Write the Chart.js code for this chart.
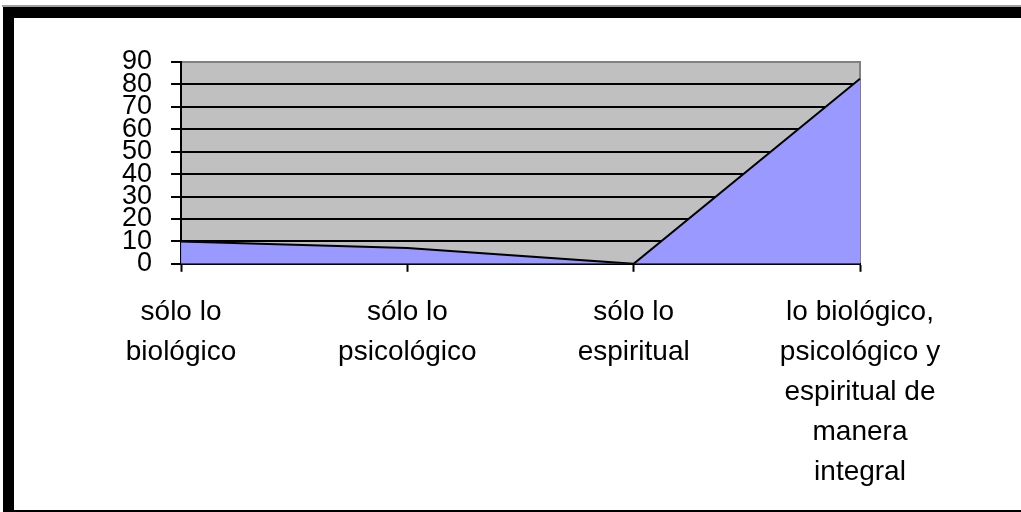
<html lang="es"><head>
<meta charset="utf-8">
<title>Gráfico de áreas</title>
<style>
* { margin: 0; padding: 0; box-sizing: border-box; }
body { width: 1021px; height: 512px; background: #ffffff; overflow: hidden; position: relative; }
.frame {
  position: absolute;
  left: 3px;
  top: 7px;
  width: 1030px;
  height: 505px;
  border-top: 11px solid #000000;
  border-left: 11px solid #000000;
  border-bottom: 2px solid #000000;
}
.topline { position: absolute; left: 2px; top: 5px; width: 1030px; height: 2px; background: #a0a0a0; }
#chart { position: absolute; left: 0; top: 0; }
</style>
</head>
<body>
<div class="topline"></div>
<div class="frame"></div>
<canvas id="chart" width="1021" height="512"></canvas>
<script src="https://cdn.jsdelivr.net/npm/chart.js@4.4.1/dist/chart.umd.min.js"></script>
<script>
// categories and values
const categories = [
  ["sólo lo", "biológico"],
  ["sólo lo", "psicológico"],
  ["sólo lo", "espiritual"],
  ["lo biológico,", "psicológico y", "espiritual de", "manera", "integral"]
];
const values = [10, 7, 0, 82.5];
const yTicks = { min: 0, max: 90, step: 10 };

// gray plot background with gray top/right edge
const plotBackground = {
  id: "plotBackground",
  beforeDraw(chart) {
    const { ctx, chartArea: a } = chart;
    ctx.save();
    ctx.fillStyle = "#c0c0c0";
    ctx.fillRect(a.left, a.top, a.right - a.left, a.bottom - a.top);
    ctx.strokeStyle = "#808080";
    ctx.lineWidth = 2;
    ctx.beginPath();
    ctx.moveTo(a.left, a.top);
    ctx.lineTo(a.right, a.top);
    ctx.lineTo(a.right, a.bottom);
    ctx.stroke();
    ctx.restore();
  }
};

new Chart(document.getElementById("chart"), {
  type: "line",
  plugins: [plotBackground],
  data: {
    labels: categories,
    datasets: [{
      data: values,
      fill: "origin",
      backgroundColor: "#9999ff",
      borderColor: "#000000",
      borderWidth: 2,
      tension: 0,
      pointRadius: 0
    }]
  },
  options: {
    responsive: false,
    animation: false,
    // top space comes from an empty title so the tall x axis is not capped
    layout: { padding: { left: 103, right: 161, top: 0, bottom: 0 } },
    plugins: {
      legend: { display: false },
      tooltip: { enabled: false },
      title: {
        display: true,
        text: " ",
        font: { size: 10, lineHeight: 1 },
        padding: { top: 0, bottom: 52 }
      }
    },
    scales: {
      x: {
        offset: false,
        grid: {
          drawOnChartArea: false,
          drawTicks: true,
          tickLength: 8,
          tickColor: "#000000",
          tickWidth: 2
        },
        border: { color: "#000000", width: 2 },
        ticks: {
          color: "#000000",
          padding: 20,
          maxRotation: 0,
          autoSkip: false,
          font: { family: "'Liberation Sans', Arial, sans-serif", size: 28, lineHeight: 1.43 }
        }
      },
      y: {
        min: yTicks.min,
        max: yTicks.max,
        grid: {
          color: (c) => (c.tick && c.tick.value === yTicks.max ? "#808080" : "#000000"),
          lineWidth: 2,
          tickLength: 10,
          tickColor: "#000000"
        },
        border: { color: "#000000", width: 2 },
        ticks: {
          stepSize: yTicks.step,
          autoSkip: false,
          color: "#000000",
          padding: 19,
          font: { family: "'Liberation Sans', Arial, sans-serif", size: 27, lineHeight: 0.82 }
        }
      }
    }
  }
});
</script>
</body></html>
